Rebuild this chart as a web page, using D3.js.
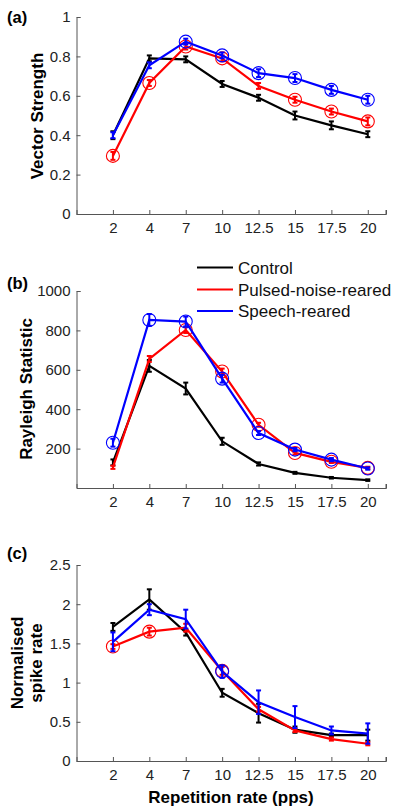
<!DOCTYPE html>
<html><head><meta charset="utf-8">
<script src="https://cdn.jsdelivr.net/npm/d3@7"></script>
<style>body{margin:0;background:#fff}svg{display:block}</style>
</head><body>
<script>
const categories = ["2","4","7","10","12.5","15","17.5","20"];
const seriesNames = ["Control","Pulsed-noise-reared","Speech-reared"];
const seriesColors = ["#000000","#ff0000","#0000ff"];

// Panel (a) Vector Strength
const vsControl = [0.40,0.79,0.785,0.66,0.59,0.50,0.45,0.405];
const vsControlErr = [0.02,0.015,0.015,0.015,0.015,0.02,0.02,0.015];
const vsPulsed = [0.295,0.665,0.85,0.79,0.65,0.58,0.52,0.47];
const vsPulsedErr = [0.02,0.015,0.015,0.015,0.015,0.015,0.015,0.02];
const vsPulsedSig = [1,1,1,1,0,1,1,1];
const vsSpeech = [0.40,0.755,0.875,0.805,0.715,0.69,0.63,0.58];
const vsSpeechErr = [0.015,0.015,0.015,0.015,0.02,0.02,0.02,0.02];
const vsSpeechSig = [0,0,1,1,1,1,1,1];
const vsTicks = [0,0.2,0.4,0.6,0.8,1];

// Panel (b) Rayleigh Statistic
const rsControl = [130,620,505,237,122,77,52,40];
const rsControlErr = [15,30,30,18,8,5,4,4];
const rsPulsed = [105,655,802,591,321,178,133,102];
const rsPulsedErr = [8,15,15,15,10,8,6,6];
const rsPulsedSig = [0,0,1,1,1,1,1,1];
const rsSpeech = [230,853,845,555,279,195,144,99];
const rsSpeechErr = [20,30,25,20,10,8,8,6];
const rsSpeechSig = [1,1,1,1,1,1,1,1];
const rsTicks = [200,400,600,800,1000];

// Panel (c) Normalised spike rate
const nsControl = [1.71,2.06,1.64,0.87,0.61,0.40,0.33,0.33];
const nsControlErr = [0.05,0.13,0.04,0.05,0.12,0.04,0.02,0.07];
const nsPulsed = [1.46,1.65,1.70,1.15,0.66,0.39,0.28,0.22];
const nsPulsedErr = [0.03,0.05,0.05,0.05,0.03,0.02,0.02,0.02];
const nsPulsedSig = [1,1,0,1,0,0,0,0];
const nsSpeech = [1.52,1.93,1.81,1.14,0.75,0.56,0.39,0.35];
const nsSpeechErr = [0.12,0.07,0.12,0.08,0.15,0.14,0.05,0.13];
const nsSpeechSig = [0,0,0,1,0,0,0,0];
const nsTicks = [0,0.5,1,1.5,2,2.5];

const W = 400, H = 812;
const svg = d3.select("body").append("svg").attr("width", W).attr("height", H);
const FONT = "Liberation Sans, Arial, Helvetica, sans-serif";

const x = d3.scaleLinear().domain([0, 8.5]).range([76.5, 386]);

function panel(cfg) {
  const y = d3.scaleLinear().domain(cfg.domain).range([cfg.bottom, cfg.top]);
  const g = svg.append("g");
  const ya = g.append("g").attr("transform", `translate(${x(0)},0)`)
    .call(d3.axisLeft(y).tickValues(cfg.ticks).tickSize(-4).tickPadding(6).tickFormat(d => d3.format("")(d)));
  const xa = g.append("g").attr("transform", `translate(0,${cfg.bottom})`)
    .call(d3.axisBottom(x).tickValues(d3.range(1, 9)).tickSize(-4).tickPadding(8).tickFormat(i => categories[i - 1]));
  [ya, xa].forEach(a => {
    a.select(".domain").attr("stroke", "#555").attr("stroke-width", 1);
    a.selectAll(".tick line").attr("stroke", "#555");
    a.selectAll("text").attr("font-family", FONT).attr("font-size", 15).attr("fill", "#222");
  });
  g.append("line").attr("x1", x(8.5)).attr("x2", x(8.5)).attr("y1", cfg.bottom).attr("y2", cfg.bottom - 4).attr("stroke", "#555");

  cfg.series.forEach((s, si) => {
    const col = seriesColors[si];
    const pts = s.v.map((v, i) => ({ xi: i + 1, v, e: s.e[i], sig: s.sig ? s.sig[i] : 0 }));
    g.append("path").datum(pts)
      .attr("d", d3.line().x(d => x(d.xi)).y(d => y(d.v)))
      .attr("fill", "none").attr("stroke", col).attr("stroke-width", 2.2);
    const eb = g.append("g").attr("stroke", col).attr("stroke-width", 2);
    pts.forEach(d => {
      const cx = x(d.xi), y0 = y(d.v - d.e), y1 = y(d.v + d.e);
      eb.append("line").attr("x1", cx).attr("x2", cx).attr("y1", y0).attr("y2", y1);
      eb.append("line").attr("x1", cx - 2.5).attr("x2", cx + 2.5).attr("y1", y0).attr("y2", y0);
      eb.append("line").attr("x1", cx - 2.5).attr("x2", cx + 2.5).attr("y1", y1).attr("y2", y1);
    });
    g.append("g").selectAll("circle").data(pts.filter(d => d.sig)).join("circle")
      .attr("cx", d => x(d.xi)).attr("cy", d => y(d.v)).attr("r", 6.5)
      .attr("fill", "none").attr("stroke", col).attr("stroke-width", 1.1);
  });

  svg.append("text").attr("x", cfg.labelX).attr("y", cfg.labelY).text(cfg.label)
    .attr("font-family", FONT).attr("font-weight", "bold").attr("font-size", 16.5).attr("fill", "#000");
  const t = svg.append("text")
    .attr("transform", `translate(${cfg.titleX},${cfg.titleY}) rotate(-90)`)
    .attr("text-anchor", "middle").attr("font-family", FONT).attr("font-weight", "bold")
    .attr("font-size", 17).attr("fill", "#000");
  cfg.title.forEach((line, li) => {
    t.append("tspan").attr("x", 0).attr("dy", li === 0 ? 0 : 19).text(line);
  });
}

panel({
  domain: [0, 1], top: 17, bottom: 214, ticks: vsTicks,
  series: [
    { v: vsControl, e: vsControlErr },
    { v: vsPulsed, e: vsPulsedErr, sig: vsPulsedSig },
    { v: vsSpeech, e: vsSpeechErr, sig: vsSpeechSig }
  ],
  label: "(a)", labelX: 7, labelY: 23,
  title: ["Vector Strength"], titleX: 43, titleY: 116
});

panel({
  domain: [0, 1000], top: 291, bottom: 488, ticks: rsTicks,
  series: [
    { v: rsControl, e: rsControlErr },
    { v: rsPulsed, e: rsPulsedErr, sig: rsPulsedSig },
    { v: rsSpeech, e: rsSpeechErr, sig: rsSpeechSig }
  ],
  label: "(b)", labelX: 7, labelY: 289,
  title: ["Rayleigh Statistic"], titleX: 32, titleY: 389
});

panel({
  domain: [0, 2.5], top: 565, bottom: 761, ticks: nsTicks,
  series: [
    { v: nsControl, e: nsControlErr },
    { v: nsPulsed, e: nsPulsedErr, sig: nsPulsedSig },
    { v: nsSpeech, e: nsSpeechErr, sig: nsSpeechSig }
  ],
  label: "(c)", labelX: 7, labelY: 559,
  title: ["Normalised", "spike rate"], titleX: 23, titleY: 663
});

svg.append("text").attr("x", 231).attr("y", 803).attr("text-anchor", "middle")
  .attr("font-family", FONT).attr("font-weight", "bold").attr("font-size", 17).text("Repetition rate (pps)");

const lg = svg.append("g");
const legendY = [267.5, 289.5, 311];
seriesNames.forEach((n, i) => {
  const yy = legendY[i];
  lg.append("line").attr("x1", 197).attr("x2", 233).attr("y1", yy).attr("y2", yy)
    .attr("stroke", seriesColors[i]).attr("stroke-width", 2.2);
  lg.append("text").attr("x", 238).attr("y", yy + 6).text(n)
    .attr("font-family", FONT).attr("font-size", 17).attr("fill", "#111");
});
</script>
</body></html>
